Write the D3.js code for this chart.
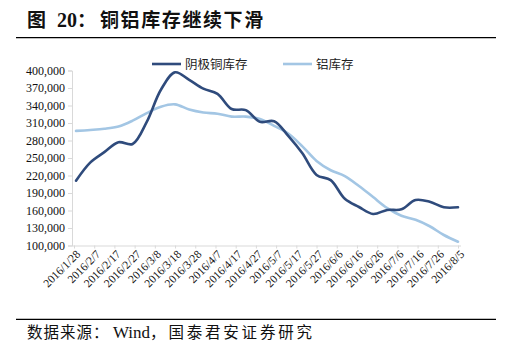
<!DOCTYPE html>
<html><head><meta charset="utf-8">
<script src="https://cdn.jsdelivr.net/npm/d3@7"></script>
<style>
html,body{margin:0;padding:0;background:#fff;}
svg{display:block;}
</style></head>
<body>
<svg id="c" width="510" height="358"></svg>
<script>
const dates = ["2016-01-29","2016-02-05","2016-02-12","2016-02-19","2016-02-26","2016-03-04","2016-03-11","2016-03-18","2016-03-25","2016-04-01","2016-04-08","2016-04-15","2016-04-22","2016-04-29","2016-05-06","2016-05-13","2016-05-20","2016-05-27","2016-06-03","2016-06-10","2016-06-17","2016-06-24","2016-07-01","2016-07-08","2016-07-15","2016-07-22","2016-07-29","2016-08-05"];
const copper = [211000,242000,260000,277000,274000,312000,367000,397000,384000,369000,360000,334000,332000,312000,313000,288000,258000,221000,212000,180000,166000,154000,161000,162000,178000,175000,165500,165500];
const aluminium = [296500,298000,300000,304000,314000,327000,338000,342000,333000,328000,326000,321000,321000,317000,305000,292000,270000,245000,229000,219000,202000,183000,164000,151000,144000,133000,118000,106500];
const seriesNames = ["阴极铜库存","铝库存"];
const yTicks = [100000,130000,160000,190000,220000,250000,280000,310000,340000,370000,400000];
const xTickLabels = ["2016/1/28","2016/2/7","2016/2/17","2016/2/27","2016/3/8","2016/3/18","2016/3/28","2016/4/7","2016/4/17","2016/4/27","2016/5/7","2016/5/17","2016/5/27","2016/6/6","2016/6/16","2016/6/26","2016/7/6","2016/7/16","2016/7/26","2016/8/5"];
const titleParts = ["图", "20：", "铜铝库存继续下滑"];
const sourceParts = ["数据来源：", "Wind", "，国泰君安证券研究"];

const svg = d3.select("#c");
const parse = d3.timeParse("%Y-%m-%d");
const parseTick = d3.timeParse("%Y/%m/%d");
const colors = ["#2F4B7C","#A3C6E4"];
const SERIF = '"Liberation Serif","Times New Roman",serif';
const CJK = '"Noto Sans CJK SC",sans-serif';

const x = d3.scaleTime().domain([parseTick("2016/1/28"), parseTick("2016/8/5")]).range([74, 458]);
const y = d3.scaleLinear().domain([100000, 400000]).range([245.5, 70.5]);

// title
const tt = svg.append("text").attr("x", 27).attr("y", 27).attr("font-weight", "bold").attr("font-size", 19).attr("fill", "#111");
tt.append("tspan").attr("style", "font-family:" + CJK).text(titleParts[0]);
tt.append("tspan").attr("x", 57).attr("style", "font-family:" + SERIF).attr("font-size", 20).text("20");
tt.append("tspan").attr("style", "font-family:" + CJK).text("：");
tt.append("tspan").attr("x", 100).attr("style", "font-family:" + CJK + ";letter-spacing:1.6px").text(titleParts[2]);
svg.append("line").attr("x1", 16).attr("x2", 496).attr("y1", 37.7).attr("y2", 37.7)
  .attr("stroke", "#000").attr("stroke-width", 1.2);

// source
svg.append("line").attr("x1", 16).attr("x2", 496).attr("y1", 319.3).attr("y2", 319.3)
  .attr("stroke", "#000").attr("stroke-width", 1.2);
const st = svg.append("text").attr("x", 27).attr("y", 338).attr("font-size", 15.5).attr("fill", "#111");
st.append("tspan").attr("style", "font-family:" + CJK + ";letter-spacing:1px").text(sourceParts[0]);
st.append("tspan").attr("x", 113).attr("style", "font-family:" + SERIF).attr("font-size", 17).text(sourceParts[1]);
st.append("tspan").attr("style", "font-family:" + CJK + ";letter-spacing:2.8px").text(sourceParts[2]);

// y axis
const yAxis = d3.axisLeft(y).tickValues(yTicks).tickFormat(d3.format(",")).tickSize(4).tickPadding(3);
const gy = svg.append("g").attr("transform", "translate(72,0)").call(yAxis).attr("font-family", null);
gy.select(".domain").attr("stroke", "#d9d9d9");
gy.selectAll(".tick line").attr("stroke", "#d9d9d9");
gy.selectAll(".tick text").attr("style", "font-family:" + SERIF).attr("font-size", 12).attr("fill", "#111");

// x axis
const xTickDates = xTickLabels.map(parseTick);
const xAxis = d3.axisBottom(x).tickValues(xTickDates).tickFormat((d, i) => xTickLabels[i]).tickSize(3).tickPadding(4);
const gx = svg.append("g").attr("transform", "translate(0,245.5)").call(xAxis).attr("font-family", null);
gx.select(".domain").attr("stroke", "#d9d9d9").attr("d", "M72,0.5H461");
gx.selectAll(".tick line").attr("stroke", "#d9d9d9");
gx.selectAll(".tick text").attr("style", "font-family:" + SERIF).attr("font-size", 11.5).attr("fill", "#111")
  .attr("text-anchor", "end").attr("dy", "0.3em")
  .attr("transform", "translate(4,7) rotate(-45)").attr("y", 0).attr("x", 0);

// lines
const line = d3.line().x(d => x(d.date)).y(d => y(d.v)).curve(d3.curveCatmullRom.alpha(0.5));
[aluminium, copper].forEach((vals, k) => {
  const idx = k === 0 ? 1 : 0;
  const data = dates.map((d, i) => ({date: parse(d), v: vals[i]}));
  svg.append("path").datum(data).attr("d", line).attr("fill", "none")
    .attr("stroke", colors[idx]).attr("stroke-width", 2.6).attr("stroke-linejoin", "round").attr("stroke-linecap", "round");
});

// legend
const legendX = [152, 283];
seriesNames.forEach((n, i) => {
  svg.append("line").attr("x1", legendX[i]).attr("x2", legendX[i] + 29).attr("y1", 64).attr("y2", 64)
    .attr("stroke", colors[i]).attr("stroke-width", 2.6);
  svg.append("text").attr("x", legendX[i] + 33).attr("y", 68.5)
    .attr("style", "font-family:" + CJK).attr("font-size", 12.5).attr("fill", "#222").text(n);
});
</script>
</body></html>
